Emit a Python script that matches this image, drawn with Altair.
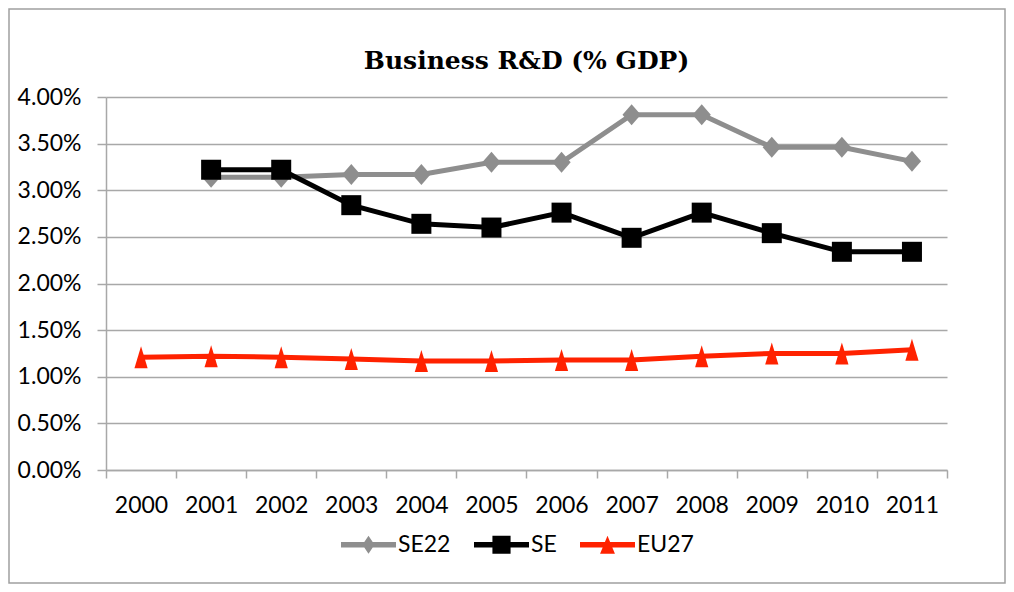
import altair as alt
import pandas as pd

years = [2000, 2001, 2002, 2003, 2004, 2005, 2006, 2007, 2008, 2009, 2010, 2011]
se22 = [None, 3.14, 3.14, 3.17, 3.17, 3.30, 3.30, 3.81, 3.81, 3.46, 3.46, 3.31]
se = [None, 3.22, 3.22, 2.84, 2.64, 2.60, 2.76, 2.49, 2.76, 2.54, 2.34, 2.34]
eu27 = [1.21, 1.22, 1.21, 1.19, 1.17, 1.17, 1.18, 1.18, 1.22, 1.25, 1.25, 1.29]

series_names = ["SE22", "SE", "EU27"]
series_colors = ["#8E8E8E", "#000000", "#FF2200"]
y_ticks = [0.0, 0.5, 1.0, 1.5, 2.0, 2.5, 3.0, 3.5, 4.0]
title_text = "Business R&D (% GDP)"

rows = []
for name, vals in zip(series_names, [se22, se, eu27]):
    for yr, v in zip(years, vals):
        if v is not None:
            rows.append({"year": str(yr), "series": name, "value": v})
df = pd.DataFrame(rows)

GRID = "#A8A8A8"
FONT = "Lato"

x_enc = alt.X(
    "year:O",
    bandPosition=0.5,
    scale=alt.Scale(type="band", domain=[str(y) for y in years], paddingInner=0, paddingOuter=0),
    axis=alt.Axis(
        title=None, labelAngle=0, tickBand="extent", grid=False,
        domainColor=GRID, domainWidth=1.5, tickColor=GRID, tickWidth=1.5, tickSize=8,
        labelFont=FONT, labelFontSize=23, labelColor="#000000", labelPadding=16,
    ),
)
y_enc = alt.Y(
    "value:Q",
    scale=alt.Scale(domain=[0, 4], nice=False),
    axis=alt.Axis(
        title=None, values=y_ticks, labelExpr="format(datum.value, '.2f') + '%'",
        grid=True, gridColor=GRID, gridWidth=1.5,
        domainColor=GRID, domainWidth=1.5, tickColor=GRID, tickWidth=1.5, tickSize=9,
        labelFont=FONT, labelFontSize=23, labelColor="#000000", labelPadding=16,
    ),
)

marker_shapes = {
    "SE22": ("M0,-1L0.87,0L0,1L-0.87,0Z", 441),
    "SE": ("square", 400),
    "EU27": ("M0,-1L0.6,1L-0.6,1Z", 484),
}
legend_paths = [
    "M-1,-0.1H1V0.1H-1Z M0,-0.33L0.22,0L0,0.33L-0.22,0Z",
    "M-1,-0.1H1V0.1H-1Z M-0.33,-0.33H0.33V0.33H-0.33Z",
    "M-1,-0.1H1V0.1H-1Z M0,-0.33L0.27,0.33L-0.27,0.33Z",
]

W, H = 841, 373
PL, PT, PR, PB = 98, 89, 59, 114

border = alt.Chart(alt.Data(values=[{"b": 1}])).mark_rect(
    filled=False, stroke="#A0A0A0", strokeWidth=1.5
).encode(
    x=alt.value(-PL + 1), x2=alt.value(W + PR - 1),
    y=alt.value(-PT + 1), y2=alt.value(H + PB - 1),
)

layers = [border]
for name, color in zip(series_names, series_colors):
    base = alt.Chart(df).transform_filter(alt.datum.series == name)
    layers.append(base.mark_line(color=color, strokeWidth=5).encode(x=x_enc, y=y_enc))
    shp, sz = marker_shapes[name]
    layers.append(base.mark_point(shape=shp, size=sz, filled=True, color=color, opacity=1).encode(x=x_enc, y=y_enc))

legend_layer = alt.Chart(df).transform_filter("false").mark_point(filled=True, opacity=1).encode(
    x=x_enc, y=y_enc,
    color=alt.Color("series:N", scale=alt.Scale(domain=series_names, range=series_colors),
                    legend=alt.Legend(title=None)),
    shape=alt.Shape("series:N", scale=alt.Scale(domain=series_names, range=legend_paths),
                    legend=alt.Legend(title=None)),
)
layers.append(legend_layer)

chart = alt.layer(*layers).properties(
    width=W, height=H,
    autosize="none",
    padding={"left": PL, "top": PT, "right": PR, "bottom": PB},
    title=alt.Title(title_text, font="DejaVu Serif", fontSize=25, fontWeight="bold",
                    color="#000000", offset=-66, anchor="middle"),
).configure_view(stroke=None).configure_legend(
    orient="none", legendX=235, legendY=420, direction="horizontal",
    symbolSize=3025, symbolStrokeWidth=0, labelFont=FONT, labelFontSize=23,
    labelColor="#000000", labelOffset=2, columnPadding=23, padding=0,
)

chart.save("out.html", embed_options={"renderer": "svg", "actions": False})
